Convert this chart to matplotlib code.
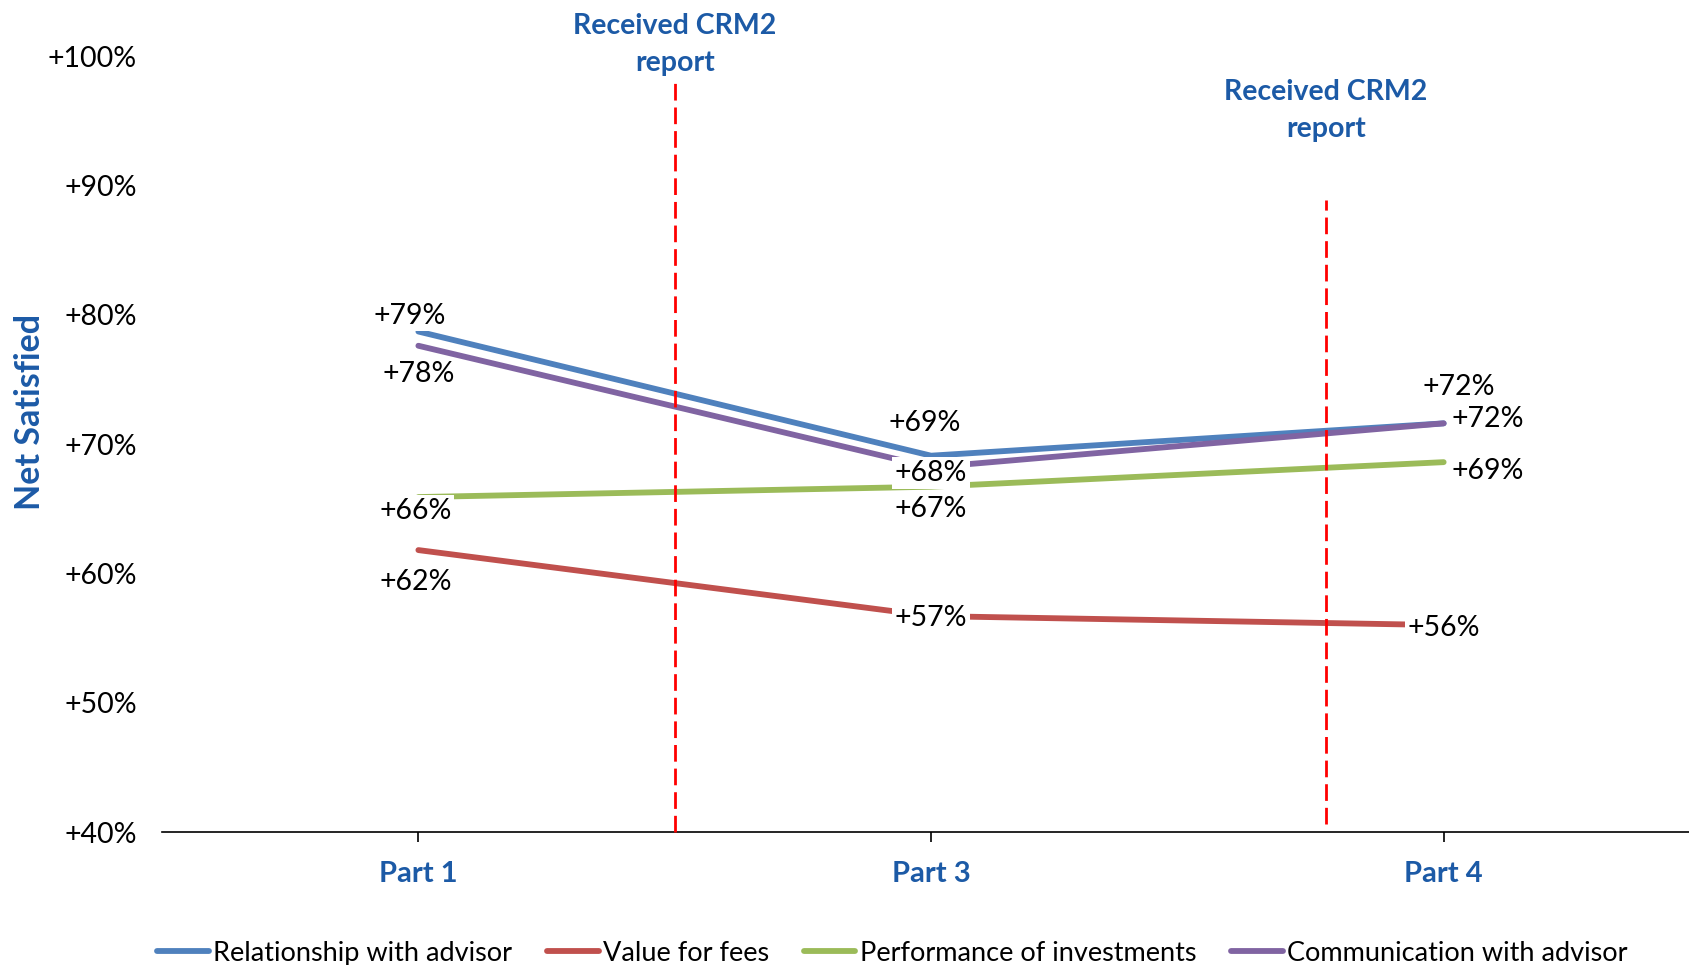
import matplotlib.pyplot as plt
import numpy as np

plt.rcParams['font.family'] = ['Lato', 'DejaVu Sans']

# data
parts = ['Part 1', 'Part 3', 'Part 4']
relationship = [78.7, 69.1, 71.6]
value_fees = [61.8, 56.7, 56.0]
performance = [65.9, 66.7, 68.6]
communication = [77.6, 68.2, 71.6]
series_names = ['Relationship with advisor', 'Value for fees',
                'Performance of investments', 'Communication with advisor']
crm2_x = [0.5, 1.77]
crm2_top = [98.3, 88.9]
crm2_bottom = [40.0, 40.6]

colors = ['#4F81BD', '#C0504D', '#9BBB59', '#8064A2']
blue_txt = '#1C5AA6'

# label offsets (pixels) per series per point
offsets = [
    [(-9, 16), (-6, 33), (15, 36)],
    [(-3, -32), (0, -2), (0, -3)],
    [(-3, -14), (0, -22), (44, -9)],
    [(0, -28), (0, -6), (44, 4)],
]

fig = plt.figure(figsize=(16.9, 9.65), dpi=100)
ax = fig.add_axes([0.0959, 0.1378, 0.910, 0.8041])

x = np.arange(len(parts))
all_series = [relationship, value_fees, performance, communication]
for ys, c, name in zip(all_series, colors, series_names):
    ax.plot(x, ys, color=c, lw=4.2, solid_capstyle='round', label=name, zorder=2)

for ys, offs in zip(all_series, offsets):
    for xi, yi, (dx, dy) in zip(x, ys, offs):
        ax.annotate(f'+{round(yi)}%', (xi, yi), xytext=(dx, dy),
                    textcoords='offset pixels', ha='center', va='center',
                    fontsize=20.5, color='black', zorder=4,
                    bbox=dict(boxstyle='square,pad=0.1', fc='white', ec='none'))

for cx, top, bot in zip(crm2_x, crm2_top, crm2_bottom):
    ax.plot([cx, cx], [bot, top], color='#FF0000', lw=2,
            linestyle=(0, (6, 2.5)), zorder=3, clip_on=False)

for cx, cy in zip(crm2_x, [100.9, 95.8]):
    ax.text(cx, cy, 'Received CRM2\nreport', ha='center', va='center',
            fontsize=20.5, fontweight='bold', color=blue_txt, linespacing=1.55,
            clip_on=False)

ax.set_xlim(-0.5, 2.5)
ax.set_ylim(40, 100)
ax.set_yticks(np.arange(40, 101, 10))
ax.set_yticklabels([f'+{v}%' for v in range(40, 101, 10)], fontsize=20.5)
ax.tick_params(axis='y', length=0, pad=18)
ax.set_xticks(x)
ax.set_xticklabels(parts, fontsize=21, fontweight='bold', color=blue_txt)
ax.tick_params(axis='x', length=7, width=1.2, direction='out', pad=14)
for s in ['left', 'right', 'top']:
    ax.spines[s].set_visible(False)
ax.spines['bottom'].set_linewidth(1.2)

fig.text(0.018, 0.573, 'Net Satisfied', rotation=90, ha='center', va='center',
         fontsize=24.5, fontweight='bold', color=blue_txt)

fig.legend(loc='center', bbox_to_anchor=(0.528, 0.0124), ncol=4, frameon=False,
           fontsize=19.5, handlelength=1.9, handletextpad=0.15,
           columnspacing=1.3, borderpad=0)

fig.savefig('out.png', dpi=100)
